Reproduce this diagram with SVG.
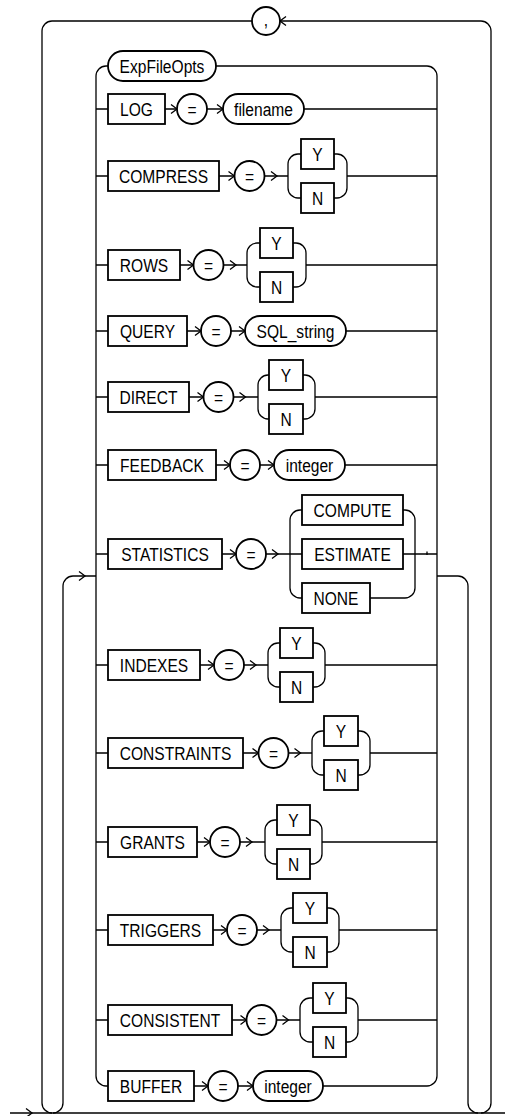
<svg xmlns="http://www.w3.org/2000/svg" xmlns:xlink="http://www.w3.org/1999/xlink" width="505" height="1116" viewBox="0 0 505 1116">
<style>
.ln{fill:none;stroke:#000;stroke-width:1.3}
.bx{fill:#fff;stroke:#000;stroke-width:1.8}
.t{font-family:"Liberation Sans",Arial,sans-serif;font-size:19px;text-anchor:middle;fill:#000}
</style>
<defs>
<path id="chev" class="ln" d="M-6,-4.5L0,0L-6,4.5"/>
</defs>
<rect width="505" height="1116" fill="#fff"/>
<g id="connectors">
<path class="ln" d="M10,1113H505"/>
<use href="#chev" x="32" y="1113"/>
<path class="ln" d="M52,1113A10,10 0 0 1 42,1103V31A10,10 0 0 1 52,21H252"/>
<path class="ln" d="M280,21H481A10,10 0 0 1 491,31V1103A10,10 0 0 1 481,1113"/>
<path class="ln" d="M286,16.5L280,21L286,25.5"/>
<path class="ln" d="M53,1113A10,10 0 0 0 63,1103V586A10,10 0 0 1 73,576H96"/>
<use href="#chev" x="85" y="576"/>
<path class="ln" d="M437,576H458A10,10 0 0 1 468,586V1103A10,10 0 0 0 478,1113"/>
<path class="ln" d="M108,66H106A10,10 0 0 0 96,76V1076A10,10 0 0 0 106,1086H108"/>
<path class="ln" d="M216,66H427A10,10 0 0 1 437,76V1076A10,10 0 0 1 427,1086H323"/>
<!-- LOG -->
<path class="ln" d="M96,109H108M165,109H177M207,109H223M304,109H437"/>
<use href="#chev" x="177" y="109"/><use href="#chev" x="223" y="109"/>
<!-- COMPRESS -->
<path class="ln" d="M96,176H108M219,176H234.5M264.5,176H288M347,176H437"/>
<use href="#chev" x="234.5" y="176"/><use href="#chev" x="277" y="176"/>
<path class="ln" d="M301,154H298A10,10 0 0 0 288,164V188A10,10 0 0 0 298,198H301M334,154H337A10,10 0 0 1 347,164V188A10,10 0 0 1 337,198H334"/>
<!-- ROWS -->
<path class="ln" d="M96,265H108M180,265H193.5M223.5,265H247M306,265H437"/>
<use href="#chev" x="193.5" y="265"/><use href="#chev" x="236" y="265"/>
<path class="ln" d="M260,243H257A10,10 0 0 0 247,253V277A10,10 0 0 0 257,287H260M293,243H296A10,10 0 0 1 306,253V277A10,10 0 0 1 296,287H293"/>
<!-- QUERY -->
<path class="ln" d="M96,331H108M187,331H201M231,331H245M346,331H437"/>
<use href="#chev" x="201" y="331"/><use href="#chev" x="245" y="331"/>
<!-- DIRECT -->
<path class="ln" d="M96,397H108M189,397H203.5M233.5,397H258M315,397H437"/>
<use href="#chev" x="203.5" y="397"/><use href="#chev" x="245.5" y="397"/>
<path class="ln" d="M269,375H268A10,10 0 0 0 258,385V409A10,10 0 0 0 268,419H269M303,375H305A10,10 0 0 1 315,385V409A10,10 0 0 1 305,419H303"/>
<!-- FEEDBACK -->
<path class="ln" d="M96,465H108M216,465H230M260,465H274M345,465H437"/>
<use href="#chev" x="230" y="465"/><use href="#chev" x="274" y="465"/>
<!-- STATISTICS -->
<path class="ln" d="M96,554H108M222,554H236M266,554H302M403,554H437M427,551.5V555"/>
<use href="#chev" x="236" y="554"/><use href="#chev" x="278" y="554"/>
<path class="ln" d="M302,510H300A10,10 0 0 0 290,520V588A10,10 0 0 0 300,598H302M403,510H405A10,10 0 0 1 415,520V588A10,10 0 0 1 405,598H370"/>
<!-- INDEXES -->
<path class="ln" d="M96,665H108M200,665H214M244,665H268M325,665H437"/>
<use href="#chev" x="214" y="665"/><use href="#chev" x="256" y="665"/>
<path class="ln" d="M280,643H278A10,10 0 0 0 268,653V677A10,10 0 0 0 278,687H280M313,643H315A10,10 0 0 1 325,653V677A10,10 0 0 1 315,687H313"/>
<!-- CONSTRAINTS -->
<path class="ln" d="M96,753H108M243,753H258.5M288.5,753H312M370,753H437"/>
<use href="#chev" x="258.5" y="753"/><use href="#chev" x="300.5" y="753"/>
<path class="ln" d="M324,731H322A10,10 0 0 0 312,741V765A10,10 0 0 0 322,775H324M358,731H360A10,10 0 0 1 370,741V765A10,10 0 0 1 360,775H358"/>
<!-- GRANTS -->
<path class="ln" d="M96,842H108M197,842H210M240,842H265M322,842H437"/>
<use href="#chev" x="210" y="842"/><use href="#chev" x="252" y="842"/>
<path class="ln" d="M277,820H275A10,10 0 0 0 265,830V854A10,10 0 0 0 275,864H277M310,820H312A10,10 0 0 1 322,830V854A10,10 0 0 1 312,864H310"/>
<!-- TRIGGERS -->
<path class="ln" d="M96,930H108M213,930H227M257,930H281M339,930H437"/>
<use href="#chev" x="227" y="930"/><use href="#chev" x="269" y="930"/>
<path class="ln" d="M293,908H291A10,10 0 0 0 281,918V942A10,10 0 0 0 291,952H293M327,908H329A10,10 0 0 1 339,918V942A10,10 0 0 1 329,952H327"/>
<!-- CONSISTENT -->
<path class="ln" d="M96,1020H108M232,1020H246.5M276.5,1020H300M358,1020H437"/>
<use href="#chev" x="246.5" y="1020"/><use href="#chev" x="288.5" y="1020"/>
<path class="ln" d="M313,998H310A10,10 0 0 0 300,1008V1032A10,10 0 0 0 310,1042H313M346,998H348A10,10 0 0 1 358,1008V1032A10,10 0 0 1 348,1042H346"/>
<!-- BUFFER -->
<path class="ln" d="M194,1086H208M238,1086H253"/>
<use href="#chev" x="208" y="1086"/><use href="#chev" x="253" y="1086"/>
</g>

<g id="comma"><circle class="bx" cx="266" cy="21" r="14"/><text class="t" transform="translate(266,25.5) scale(.82,1)">,</text></g>
<g id="expfileopts"><rect class="bx" x="108" y="51" width="108" height="30" rx="15"/><text class="t" transform="translate(162,72.5) scale(.82,1)">ExpFileOpts</text></g>

<g id="log"><rect class="bx" x="108" y="94" width="57" height="30"/><text class="t" transform="translate(136.5,115.5) scale(.82,1)">LOG</text></g>
<g id="log-eq"><circle class="bx" cx="192" cy="109" r="15"/><text class="t" transform="translate(192,115.5) scale(.82,1)">=</text></g>
<g id="log-filename"><rect class="bx" x="223" y="94" width="81" height="30" rx="15"/><text class="t" transform="translate(263.5,115.5) scale(.82,1)">filename</text></g>

<g id="compress"><rect class="bx" x="108" y="161" width="111" height="30"/><text class="t" transform="translate(163.5,182.5) scale(.82,1)">COMPRESS</text></g>
<g id="compress-eq"><circle class="bx" cx="249.5" cy="176" r="15"/><text class="t" transform="translate(249.5,182.5) scale(.82,1)">=</text></g>
<g id="compress-y"><rect class="bx" x="301" y="139" width="33" height="30"/><text class="t" transform="translate(317.5,160.5) scale(.82,1)">Y</text></g>
<g id="compress-n"><rect class="bx" x="301" y="183" width="33" height="30"/><text class="t" transform="translate(317.5,204.5) scale(.82,1)">N</text></g>

<g id="rows"><rect class="bx" x="108" y="250" width="72" height="30"/><text class="t" transform="translate(144,271.5) scale(.82,1)">ROWS</text></g>
<g id="rows-eq"><circle class="bx" cx="208.5" cy="265" r="15"/><text class="t" transform="translate(208.5,271.5) scale(.82,1)">=</text></g>
<g id="rows-y"><rect class="bx" x="260" y="228" width="33" height="30"/><text class="t" transform="translate(276.5,249.5) scale(.82,1)">Y</text></g>
<g id="rows-n"><rect class="bx" x="260" y="272" width="33" height="30"/><text class="t" transform="translate(276.5,293.5) scale(.82,1)">N</text></g>

<g id="query"><rect class="bx" x="108" y="316" width="79" height="30"/><text class="t" transform="translate(147.5,337.5) scale(.82,1)">QUERY</text></g>
<g id="query-eq"><circle class="bx" cx="216" cy="331" r="15"/><text class="t" transform="translate(216,337.5) scale(.82,1)">=</text></g>
<g id="query-sql"><rect class="bx" x="245" y="316" width="101" height="30" rx="15"/><text class="t" transform="translate(295.5,337.5) scale(.82,1)">SQL_string</text></g>

<g id="direct"><rect class="bx" x="108" y="382" width="81" height="30"/><text class="t" transform="translate(148.5,403.5) scale(.82,1)">DIRECT</text></g>
<g id="direct-eq"><circle class="bx" cx="218.5" cy="397" r="15"/><text class="t" transform="translate(218.5,403.5) scale(.82,1)">=</text></g>
<g id="direct-y"><rect class="bx" x="269" y="360" width="34" height="30"/><text class="t" transform="translate(286,381.5) scale(.82,1)">Y</text></g>
<g id="direct-n"><rect class="bx" x="269" y="404" width="34" height="30"/><text class="t" transform="translate(286,425.5) scale(.82,1)">N</text></g>

<g id="feedback"><rect class="bx" x="108" y="450" width="108" height="30"/><text class="t" transform="translate(162,471.5) scale(.82,1)">FEEDBACK</text></g>
<g id="feedback-eq"><circle class="bx" cx="245" cy="465" r="15"/><text class="t" transform="translate(245,471.5) scale(.82,1)">=</text></g>
<g id="feedback-integer"><rect class="bx" x="274" y="450" width="71" height="30" rx="15"/><text class="t" transform="translate(309.5,471.5) scale(.82,1)">integer</text></g>

<g id="statistics"><rect class="bx" x="108" y="539" width="114" height="30"/><text class="t" transform="translate(165,560.5) scale(.82,1)">STATISTICS</text></g>
<g id="statistics-eq"><circle class="bx" cx="251" cy="554" r="15"/><text class="t" transform="translate(251,560.5) scale(.82,1)">=</text></g>
<g id="compute"><rect class="bx" x="302" y="495" width="101" height="30"/><text class="t" transform="translate(352.5,516.5) scale(.82,1)">COMPUTE</text></g>
<g id="estimate"><rect class="bx" x="302" y="539" width="101" height="30"/><text class="t" transform="translate(352.5,560.5) scale(.82,1)">ESTIMATE</text></g>
<g id="none"><rect class="bx" x="302" y="583" width="68" height="30"/><text class="t" transform="translate(336,604.5) scale(.82,1)">NONE</text></g>

<g id="indexes"><rect class="bx" x="108" y="650" width="92" height="30"/><text class="t" transform="translate(154,671.5) scale(.82,1)">INDEXES</text></g>
<g id="indexes-eq"><circle class="bx" cx="229" cy="665" r="15"/><text class="t" transform="translate(229,671.5) scale(.82,1)">=</text></g>
<g id="indexes-y"><rect class="bx" x="280" y="628" width="33" height="30"/><text class="t" transform="translate(296.5,649.5) scale(.82,1)">Y</text></g>
<g id="indexes-n"><rect class="bx" x="280" y="672" width="33" height="30"/><text class="t" transform="translate(296.5,693.5) scale(.82,1)">N</text></g>

<g id="constraints"><rect class="bx" x="108" y="738" width="135" height="30"/><text class="t" transform="translate(175.5,759.5) scale(.82,1)">CONSTRAINTS</text></g>
<g id="constraints-eq"><circle class="bx" cx="273.5" cy="753" r="15"/><text class="t" transform="translate(273.5,759.5) scale(.82,1)">=</text></g>
<g id="constraints-y"><rect class="bx" x="324" y="716" width="34" height="30"/><text class="t" transform="translate(341,737.5) scale(.82,1)">Y</text></g>
<g id="constraints-n"><rect class="bx" x="324" y="760" width="34" height="30"/><text class="t" transform="translate(341,781.5) scale(.82,1)">N</text></g>

<g id="grants"><rect class="bx" x="108" y="827" width="89" height="30"/><text class="t" transform="translate(152.5,848.5) scale(.82,1)">GRANTS</text></g>
<g id="grants-eq"><circle class="bx" cx="225" cy="842" r="15"/><text class="t" transform="translate(225,848.5) scale(.82,1)">=</text></g>
<g id="grants-y"><rect class="bx" x="277" y="805" width="33" height="30"/><text class="t" transform="translate(293.5,826.5) scale(.82,1)">Y</text></g>
<g id="grants-n"><rect class="bx" x="277" y="849" width="33" height="30"/><text class="t" transform="translate(293.5,870.5) scale(.82,1)">N</text></g>

<g id="triggers"><rect class="bx" x="108" y="915" width="105" height="30"/><text class="t" transform="translate(160.5,936.5) scale(.82,1)">TRIGGERS</text></g>
<g id="triggers-eq"><circle class="bx" cx="242" cy="930" r="15"/><text class="t" transform="translate(242,936.5) scale(.82,1)">=</text></g>
<g id="triggers-y"><rect class="bx" x="293" y="893" width="34" height="30"/><text class="t" transform="translate(310,914.5) scale(.82,1)">Y</text></g>
<g id="triggers-n"><rect class="bx" x="293" y="937" width="34" height="30"/><text class="t" transform="translate(310,958.5) scale(.82,1)">N</text></g>

<g id="consistent"><rect class="bx" x="108" y="1005" width="124" height="30"/><text class="t" transform="translate(170,1026.5) scale(.82,1)">CONSISTENT</text></g>
<g id="consistent-eq"><circle class="bx" cx="261.5" cy="1020" r="15"/><text class="t" transform="translate(261.5,1026.5) scale(.82,1)">=</text></g>
<g id="consistent-y"><rect class="bx" x="313" y="983" width="33" height="30"/><text class="t" transform="translate(329.5,1004.5) scale(.82,1)">Y</text></g>
<g id="consistent-n"><rect class="bx" x="313" y="1027" width="33" height="30"/><text class="t" transform="translate(329.5,1048.5) scale(.82,1)">N</text></g>

<g id="buffer"><rect class="bx" x="108" y="1071" width="86" height="30"/><text class="t" transform="translate(151,1092.5) scale(.82,1)">BUFFER</text></g>
<g id="buffer-eq"><circle class="bx" cx="223" cy="1086" r="15"/><text class="t" transform="translate(223,1092.5) scale(.82,1)">=</text></g>
<g id="buffer-integer"><rect class="bx" x="253" y="1071" width="70" height="30" rx="15"/><text class="t" transform="translate(288,1092.5) scale(.82,1)">integer</text></g>
</svg>
